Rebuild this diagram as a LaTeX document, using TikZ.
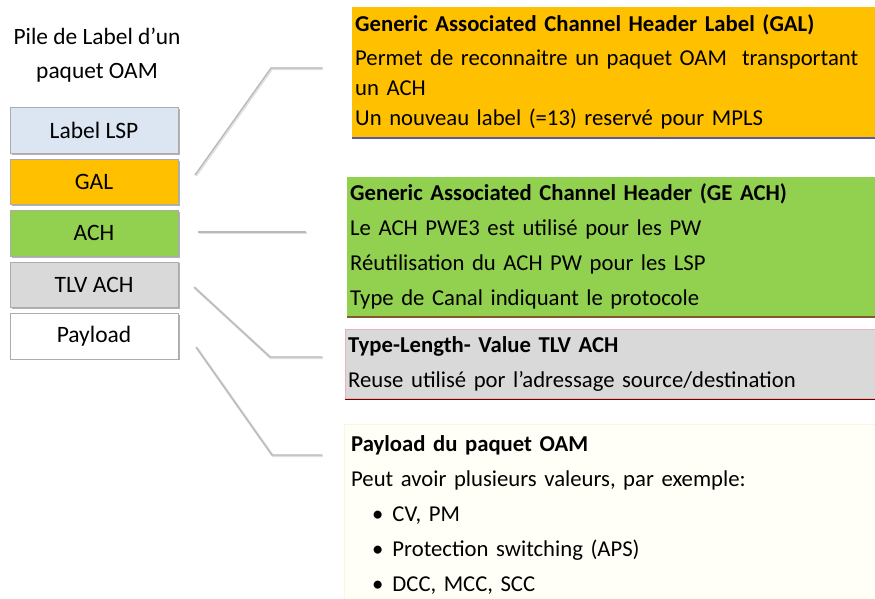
\documentclass[tikz,border=0pt]{standalone}
\usepackage{fontspec}
\setmainfont{Carlito}
\usetikzlibrary{positioning,shadows}

\definecolor{lspblue}{HTML}{DCE6F2}
\definecolor{galorange}{HTML}{FFC000}
\definecolor{achgreen}{HTML}{92D050}
\definecolor{tlvgray}{HTML}{D9D9D9}
\definecolor{tlvedge}{HTML}{E8B4B8}
\definecolor{paycream}{HTML}{FFFFF7}
\definecolor{payedge}{HTML}{F7F7D9}

\begin{document}
\begin{tikzpicture}[
  x=1pt, y=-1pt,
  node distance=5pt,
  stack/.style={draw=gray!65, line width=0.8pt, minimum width=168pt, minimum height=45.6pt, inner sep=0pt,
    font=\fontsize{23.5}{25}\selectfont,
    drop shadow={shadow xshift=1.5pt, shadow yshift=-1.5pt, fill=gray!60, opacity=1}},
  descr/.style={anchor=north west, align=left, inner xsep=3pt, inner ysep=0pt, text width=535pt,
    font=\fontsize{22.7}{35}\selectfont},
  link/.style={draw=gray!55, line width=1.3pt, line join=round,
    preaction={draw=black!12, line width=2.6pt, transform canvas={shift={(0.8pt,-0.8pt)}}}}
]
\useasboundingbox (0,0) rectangle (875,599);

% stack of labels
\node[align=center, font=\fontsize{23.4}{34}\selectfont] (title) at (97,55) {Pile de Label d’un\\paquet OAM};
\node[stack, fill=lspblue] (lsp) at (94,130.5) {Label LSP};
\node[stack, fill=galorange, below=of lsp] (gal) {GAL};
\node[stack, fill=achgreen, below=of gal] (ach) {ACH};
\node[stack, fill=tlvgray, below=of ach] (tlv) {TLV ACH};
\node[stack, fill=white, below=of tlv] (pay) {Payload};

% descriptions
\node[descr, fill=galorange, minimum height=130pt, font=\fontsize{22.7}{30}\selectfont,
  drop shadow={shadow xshift=0pt, shadow yshift=-2pt, fill=gray!70!blue, opacity=1}] (galbox) at (352,7)
  {\textbf{Generic Associated Channel Header Label (GAL)}\\[4pt]
   Permet de reconnaitre un paquet OAM\ \ transportant\\
   un ACH\\
   Un nouveau label (=13) reservé pour MPLS};
\node[descr, fill=achgreen, minimum height=139pt,
  drop shadow={shadow xshift=0pt, shadow yshift=-2pt, fill=brown!70!black, opacity=1}] (achbox) at (347,177)
  {\textbf{Generic Associated Channel Header (GE ACH)}\\
   Le ACH PWE3 est utilisé pour les PW\\
   Réutilisation du ACH PW pour les LSP\\
   Type de Canal indiquant le protocole};
\node[descr, fill=tlvgray, draw=tlvedge, minimum height=69pt,
  drop shadow={shadow xshift=0pt, shadow yshift=-2pt, fill=red!45!black, opacity=1}] (tlvbox) at (345,329)
  {\textbf{Type-Length- Value TLV ACH}\\
   Reuse utilisé por l’adressage source/destination};
\node[descr, fill=paycream, draw=payedge, minimum height=182pt, inner xsep=7pt] (paybox) at (344,424)
  {\textbf{Payload du paquet OAM}\\
   Peut avoir plusieurs valeurs, par exemple:\\
   \hspace*{21pt}•\hspace{9pt}CV, PM\\
   \hspace*{21pt}•\hspace{9pt}Protection switching (APS)\\
   \hspace*{21pt}•\hspace{9pt}DCC, MCC, SCC};

% connectors
\coordinate (galA) at (195,175);
\coordinate (galB) at (271,68);
\coordinate (galC) at (322,68);
\coordinate (achA) at (198,232);
\coordinate (achB) at (306,232);
\coordinate (tlvA) at (194,287);
\coordinate (tlvB) at (270,357);
\coordinate (tlvC) at (322,357);
\coordinate (payA) at (196,347);
\coordinate (payB) at (272,455);
\coordinate (payC) at (322,455);

\draw[link] (galA) -- (galB) -- (galC);
\draw[link] (achA) -- (achB);
\draw[link] (tlvA) -- (tlvB) -- (tlvC);
\draw[link] (payA) -- (payB) -- (payC);
\end{tikzpicture}
\end{document}
